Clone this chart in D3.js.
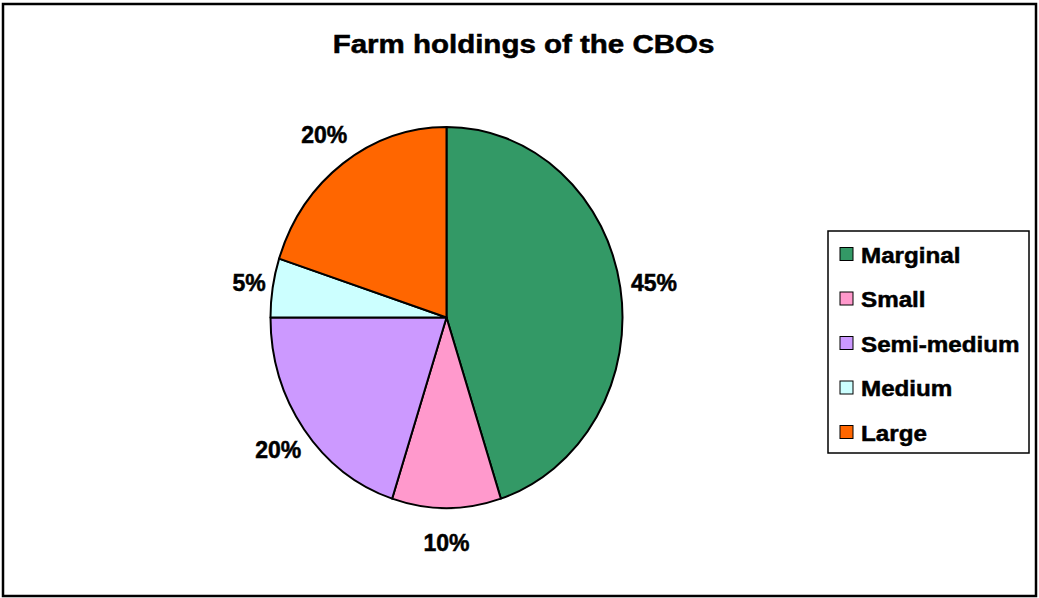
<!DOCTYPE html>
<html>
<head>
<meta charset="utf-8">
<script src="https://cdn.jsdelivr.net/npm/d3@7/dist/d3.min.js"></script>
<style>
  html, body { margin: 0; padding: 0; background: #fff; }
  svg { display: block; }
  text { font-family: "Liberation Sans", Arial, sans-serif; font-weight: bold; fill: #000;
         stroke: #000; stroke-width: 0.5px; }
</style>
</head>
<body>
<svg id="chart" width="1039" height="598"></svg>
<script>
// Farm holding classes and their share of CBO members (%)
const categories = ["Marginal", "Small", "Semi-medium", "Medium", "Large"];
const shares = [45, 10, 20, 5, 20];
const colors = ["#339966", "#FF99CC", "#CC99FF", "#CCFFFF", "#FF6600"];
const titleText = "Farm holdings of the CBOs";

const svg = d3.select("#chart");

// outer frame
svg.append("rect")
  .attr("x", 3).attr("y", 4)
  .attr("width", 1033).attr("height", 592)
  .attr("fill", "#fff").attr("stroke", "#000").attr("stroke-width", 2.5);

// title (slightly widened type)
const titleX = 523.5, titleY = 53, titleSx = 1.18;
svg.append("text")
  .attr("transform", `translate(${titleX},${titleY}) scale(${titleSx},1)`)
  .attr("text-anchor", "middle")
  .style("font-size", "25px")
  .text(titleText);

// pie: drawn as a circle then stretched vertically into an ellipse
const cx = 446.5, cy = 317.5, rx = 176, ry = 190.5;
const data = categories.map((c, i) => ({ name: c, value: shares[i], color: colors[i] }));

const pie = d3.pie().sort(null).value(d => d.value);
const arcs = pie(data);
const arc = d3.arc().innerRadius(0).outerRadius(rx);

const pieG = svg.append("g")
  .attr("transform", `translate(${cx},${cy}) scale(1,${ry / rx})`);

pieG.selectAll("path")
  .data(arcs)
  .join("path")
  .attr("d", arc)
  .attr("fill", d => d.data.color)
  .attr("stroke", "#000")
  .attr("stroke-width", 2)
  .attr("stroke-linejoin", "round")
  .style("vector-effect", "non-scaling-stroke");

// percentage labels outside the slices
const lx = rx + 32, ly = ry + 35;
const midAngle = d => (d.startAngle + d.endAngle) / 2;
svg.append("g").selectAll("text")
  .data(arcs)
  .join("text")
  .attr("x", d => {
    const s = Math.sin(midAngle(d));
    return cx + s * lx + (s < -0.95 ? 8 : 0) + (s > 0.95 ? 2 : 0);
  })
  .attr("y", d => cy - Math.cos(midAngle(d)) * ly)
  .attr("text-anchor", "middle")
  .attr("dy", "0.36em")
  .style("font-size", "23px")
  .text(d => d.data.value + "%");

// legend
const legX = 828, legY = 231, legW = 201, legH = 222;
const legend = svg.append("g");
legend.append("rect")
  .attr("x", legX).attr("y", legY)
  .attr("width", legW).attr("height", legH)
  .attr("fill", "#fff").attr("stroke", "#000").attr("stroke-width", 1.5);

const rowY = d3.scalePoint().domain(categories).range([254, 432]);
const rows = legend.selectAll("g.row")
  .data(data)
  .join("g")
  .attr("class", "row")
  .attr("transform", d => `translate(0,${rowY(d.name)})`);

rows.append("rect")
  .attr("x", 840).attr("y", -6.5)
  .attr("width", 13).attr("height", 13)
  .attr("fill", d => d.color)
  .attr("stroke", "#000").attr("stroke-width", 1);

rows.append("text")
  .attr("transform", "translate(861,8.5) scale(1.1,1)")
  .style("font-size", "22px")
  .text(d => d.name);
</script>
</body>
</html>
